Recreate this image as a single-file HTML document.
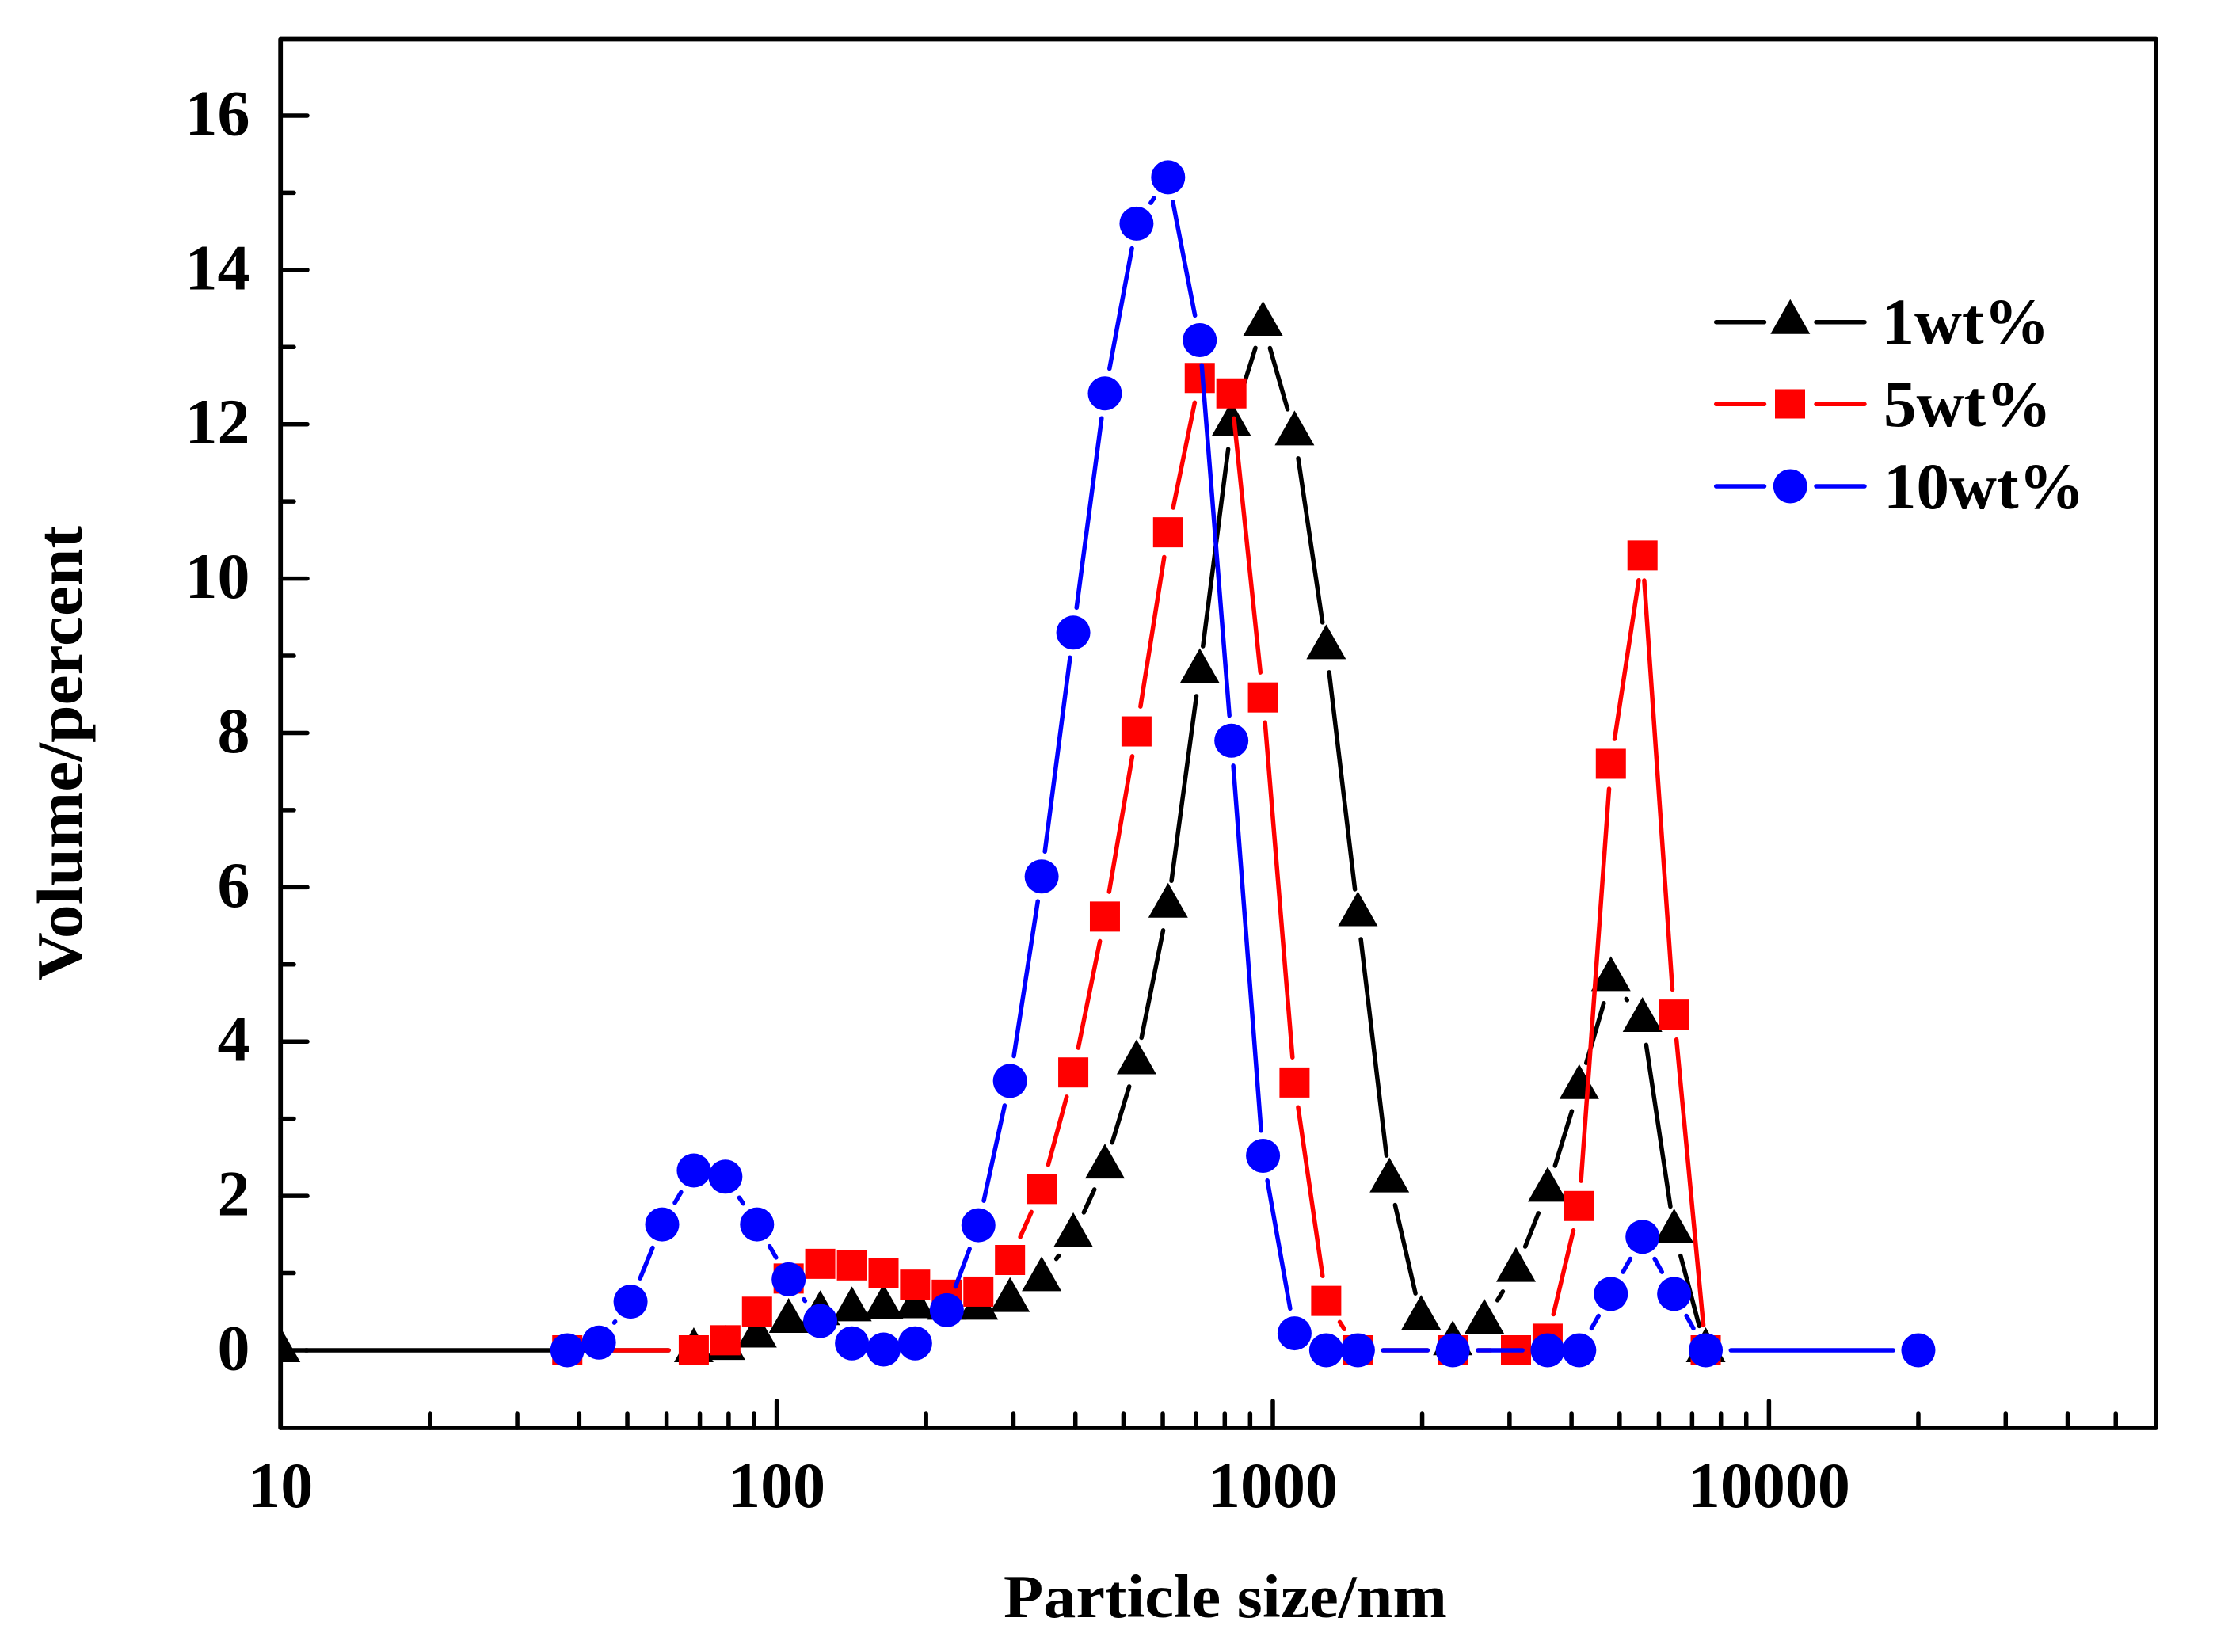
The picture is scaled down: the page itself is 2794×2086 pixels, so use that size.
<!DOCTYPE html>
<html lang="en">
<head>
<meta charset="utf-8">
<title>Particle size distribution</title>
<style>
html,body{margin:0;padding:0;background:#fff;width:2794px;height:2086px;overflow:hidden}
svg{display:block}
text{font-family:"Liberation Serif",serif;font-weight:bold;fill:#000}
</style>
</head>
<body>
<svg id="chart" xmlns="http://www.w3.org/2000/svg" width="2794" height="2086" viewBox="0 0 2794 2086">
  <defs>
    <clipPath id="plot-clip"><rect x="354" y="49" width="2368" height="1754"/></clipPath>
  </defs>
  <rect x="0" y="0" width="2794" height="2086" fill="#fff"/>
  <g id="series-layer" clip-path="url(#plot-clip)"></g>
  <g id="axis-layer"></g>
  <text x="1547" y="2042" font-size="77" text-anchor="middle" textLength="560" lengthAdjust="spacingAndGlyphs">Particle size/nm</text>
  <text x="103" y="951.5" font-size="82" text-anchor="middle" textLength="575" lengthAdjust="spacingAndGlyphs" transform="rotate(-90 103 951.5)">Volume/percent</text>
  <g>
    <g>
      <line x1="2166.7" y1="406.7" x2="2227.5" y2="406.7" stroke="#000" stroke-width="5.5" stroke-linecap="round"/>
      <polygon points="2260.3,377.7 2285.3,421.7 2235.3,421.7" fill="#000"/>
      <line x1="2293" y1="406.7" x2="2354" y2="406.7" stroke="#000" stroke-width="5.5" stroke-linecap="round"/>
      <text x="2375.5" y="434" font-size="83">1wt%</text>
    </g>
    <g>
      <line x1="2166.7" y1="510.3" x2="2227.5" y2="510.3" stroke="#f00" stroke-width="5.5" stroke-linecap="round"/>
      <rect x="2241" y="491.5" width="38" height="37" fill="#f00"/>
      <line x1="2293" y1="510.3" x2="2354" y2="510.3" stroke="#f00" stroke-width="5.5" stroke-linecap="round"/>
      <text x="2378" y="538" font-size="83">5wt%</text>
    </g>
    <g>
      <line x1="2166.7" y1="614" x2="2227.5" y2="614" stroke="#00f" stroke-width="5.5" stroke-linecap="round"/>
      <circle cx="2260.3" cy="614" r="21.5" fill="#00f"/>
      <line x1="2293" y1="614" x2="2354" y2="614" stroke="#00f" stroke-width="5.5" stroke-linecap="round"/>
      <text x="2378" y="642" font-size="83">10wt%</text>
    </g>
  </g>
</svg>
<script>
var size1 = [10,68.06,78.82,91.28,105.7,122.4,141.8,164.2,190.1,220.2,255,295.3,342,396.1,458.7,531.2,615.1,712.4,825,955.4,1106,1281,1484,1718,1990,2305,2669,3091,3580,4145,4801,5560,6439,7456];
var vol1 = [0,0,0.03,0.19,0.38,0.48,0.53,0.56,0.57,0.55,0.55,0.65,0.92,1.49,2.38,3.73,5.76,8.8,12,13.3,11.88,9.11,5.65,2.2,0.42,0.09,0.37,1.04,2.08,3.41,4.81,4.28,1.54,0];
var size2 = [37.84,68.06,78.82,91.28,105.7,122.4,141.8,164.2,190.1,220.2,255,295.3,342,396.1,458.7,531.2,615.1,712.4,825,955.4,1106,1281,1484,2305,3091,3580,4145,4801,5560,6439,7456];
var vol2 = [0,0,0.13,0.5,0.93,1.12,1.1,1,0.85,0.72,0.76,1.17,2.09,3.6,5.62,8.02,10.6,12.6,12.4,8.46,3.47,0.64,0,0,0,0.15,1.87,7.6,10.3,4.35,0];
var size3 = [37.84,43.82,50.75,58.77,68.06,78.82,91.28,105.7,122.4,141.8,164.2,190.1,220.2,255,295.3,342,396.1,458.7,531.2,615.1,712.4,825,955.4,1106,1281,1484,2305,3580,4145,4801,5560,6439,7456,20000];
var vol3 = [0,0.1,0.63,1.63,2.33,2.25,1.63,0.92,0.38,0.09,0.01,0.09,0.52,1.62,3.49,6.14,9.3,12.4,14.6,15.2,13.09,7.9,2.52,0.22,0,0,0,0,0,0.73,1.47,0.73,0,0];
var yTickLabels = ['0','2','4','6','8','10','12','14','16'];
var yTickValues = [0,2,4,6,8,10,12,14,16];
var yMinorValues = [1,3,5,7,9,11,13,15];
var xTickLabels = ['10','100','1000','10000'];
var xTickValues = [10,100,1000,10000];
var xMinorValues = [20,30,40,50,60,70,80,90,200,300,400,500,600,700,800,900,2000,3000,4000,5000,6000,7000,8000,9000,20000,30000,40000,50000];

var NS = 'http://www.w3.org/2000/svg';
var LEFT = 354.2, DECADE = 626.4, ZERO_Y = 1705, UNIT = 97.44;
var AXIS_BOTTOM = 1803, AXIS_TOP = 49.5, AXIS_RIGHT = 2722;
var GAP = 31.75;

function xScale(v) { return LEFT + (Math.log10(v) - 1) * DECADE; }
function yScale(v) { return ZERO_Y - v * UNIT; }
function make(tag, parent) {
  var el = document.createElementNS(NS, tag);
  parent.appendChild(el);
  return el;
}
function setLine(el, x1, y1, x2, y2, color, width) {
  el.setAttribute('x1', x1);
  el.setAttribute('y1', y1);
  el.setAttribute('x2', x2);
  el.setAttribute('y2', y2);
  el.setAttribute('stroke', color);
  el.setAttribute('stroke-width', width);
  el.setAttribute('stroke-linecap', 'round');
}

var axisLayer = document.getElementById('axis-layer');
var seriesLayer = document.getElementById('series-layer');

function drawSeries(sizes, vols, color, shape, seriesName) {
  var group = make('g', seriesLayer);
  
  
  var i;
  for (i = 0; i < sizes.length - 1; i++) {
    var ax = xScale(sizes[i]), ay = yScale(vols[i]);
    var bx = xScale(sizes[i + 1]), by = yScale(vols[i + 1]);
    var d = Math.sqrt((bx - ax) * (bx - ax) + (by - ay) * (by - ay));
    if (d > 2 * GAP) {
      var ux = (bx - ax) / d, uy = (by - ay) / d;
      var seg = make('line', group);
      
      
      setLine(seg, ax + ux * GAP, ay + uy * GAP, bx - ux * GAP, by - uy * GAP, color, 5.5);
    }
  }
  for (i = 0; i < sizes.length; i++) {
    var mx = xScale(sizes[i]), my = yScale(vols[i]);
    var m;
    if (shape === 'triangle') {
      m = make('polygon', group);
      m.setAttribute('points', mx + ',' + (my - 29) + ' ' + (mx + 25) + ',' + (my + 15) + ' ' + (mx - 25) + ',' + (my + 15));
    } else if (shape === 'square') {
      m = make('rect', group);
      m.setAttribute('x', mx - 19);
      m.setAttribute('y', my - 19);
      m.setAttribute('width', 38);
      m.setAttribute('height', 38);
    } else {
      m = make('circle', group);
      m.setAttribute('cx', mx);
      m.setAttribute('cy', my);
      m.setAttribute('r', 21.5);
    }
    m.setAttribute('fill', color);
    
    
  }
}

drawSeries(size1, vol1, '#000', 'triangle', 'series-1wt');
drawSeries(size2, vol2, '#f00', 'square', 'series-5wt');
drawSeries(size3, vol3, '#00f', 'circle', 'series-10wt');

var frame = make('rect', axisLayer);


frame.setAttribute('x', LEFT);
frame.setAttribute('y', AXIS_TOP);
frame.setAttribute('width', AXIS_RIGHT - LEFT);
frame.setAttribute('height', AXIS_BOTTOM - AXIS_TOP);
frame.setAttribute('fill', 'none');
frame.setAttribute('stroke', '#000');
frame.setAttribute('stroke-width', 5.8);
frame.setAttribute('stroke-linejoin', 'round');

yTickValues.forEach(function (v, i) {
  var t = make('line', axisLayer);
  
  
  setLine(t, LEFT, yScale(v), 388, yScale(v), '#000', 5.5);
  var l = make('text', axisLayer);
  
  
  l.setAttribute('x', 315.5);
  l.setAttribute('y', yScale(v) + 24.5);
  l.setAttribute('font-size', 82);
  l.setAttribute('text-anchor', 'end');
  l.textContent = yTickLabels[i];
});
yMinorValues.forEach(function (v) {
  var t = make('line', axisLayer);
  
  
  setLine(t, LEFT, yScale(v), 371, yScale(v), '#000', 5.5);
});
xTickValues.forEach(function (v, i) {
  var t = make('line', axisLayer);
  
  
  setLine(t, xScale(v), AXIS_BOTTOM, xScale(v), 1769, '#000', 5.5);
  var l = make('text', axisLayer);
  
  
  l.setAttribute('x', xScale(v));
  l.setAttribute('y', 1903);
  l.setAttribute('font-size', 82);
  l.setAttribute('text-anchor', 'middle');
  l.textContent = xTickLabels[i];
});
xMinorValues.forEach(function (v) {
  var t = make('line', axisLayer);
  
  
  setLine(t, xScale(v), AXIS_BOTTOM, xScale(v), 1785, '#000', 5.5);
});
</script>
</body>
</html>
